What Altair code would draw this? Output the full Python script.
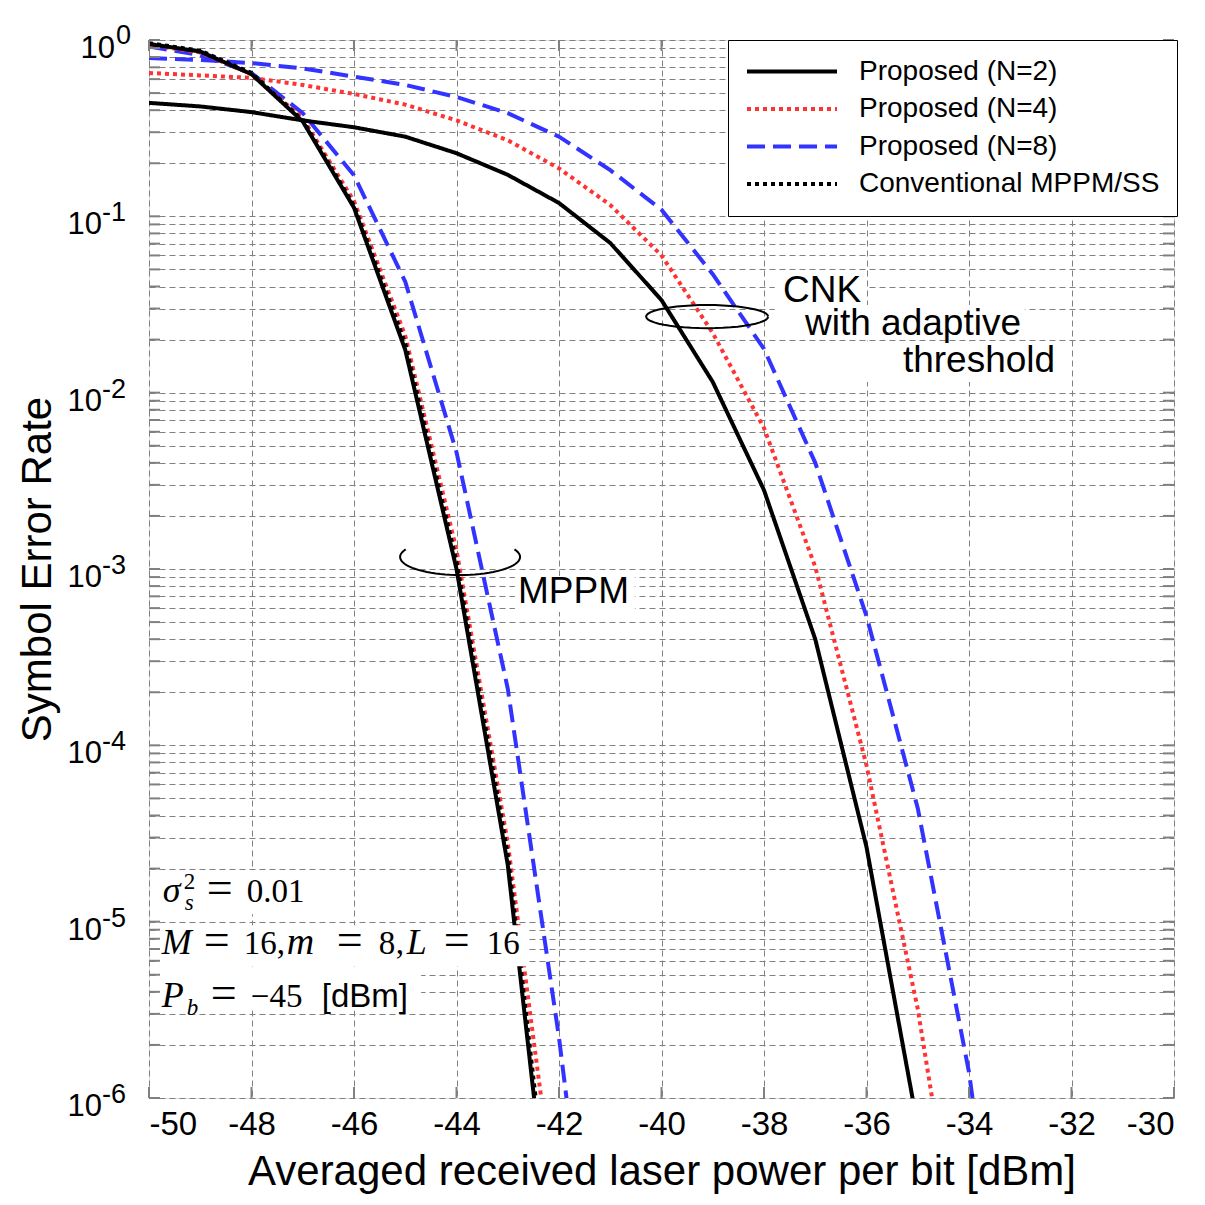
import math
import altair as alt
import pandas as pd

# ---------------- data ----------------
x_mppm = [-50, -49, -48, -47, -46, -45, -44, -43, -42]
n2_mppm = [0.95, 0.86, 0.64, 0.345, 0.112, 0.0175, 1.0e-3, 2.1e-5, 5.6e-8]
conv_mppm = [0.96, 0.87, 0.65, 0.35, 0.115, 0.019, 1.1e-3, 2.4e-5, 7e-8]
n4_mppm = [0.94, 0.85, 0.64, 0.36, 0.122, 0.021, 1.28e-3, 2.8e-5, 1.7e-7]
x_mppm8 = [-50, -49, -48, -47, -46, -45, -44, -43, -42, -41]
n8_mppm = [0.92, 0.82, 0.65, 0.385, 0.171, 0.0426, 4.6e-3, 2.1e-4, 2.2e-6, 1e-8]

x_cnk2 = list(range(-50, -34))
n2_cnk = [0.44, 0.42, 0.39, 0.35, 0.32, 0.283, 0.228, 0.172, 0.119, 0.0706,
          0.0335, 0.0115, 2.8e-3, 4.0e-4, 2.65e-5, 6.9e-7]
x_cnk4 = list(range(-50, -33))
n4_cnk = [0.65, 0.63, 0.61, 0.556, 0.494, 0.43, 0.35, 0.27, 0.187, 0.116,
          0.06, 0.0218, 6.3e-3, 1.03e-3, 7.7e-5, 3.2e-6, 5e-8]
x_cnk8 = list(range(-50, -32))
n8_cnk = [0.79, 0.77, 0.74, 0.69, 0.62, 0.556, 0.475, 0.385, 0.283, 0.183,
          0.109, 0.047, 0.0177, 4.0e-3, 5.4e-4, 4.4e-5, 1.4e-6, 1e-8]

names = ["Proposed (N=2)", "Proposed (N=4)", "Proposed (N=8)", "Conventional MPPM/SS"]
colors = ["#000000", "#ff3333", "#3333ff", "#000000"]
dashes = [[1, 0], [4, 4], [18, 8], [4, 4]]

x_ticks = list(range(-50, -29, 2))
exponents = [0, -1, -2, -3, -4, -5, -6]

# annotation texts (data coordinates)
ann_text = ["CNK", "with adaptive", "threshold", "MPPM"]
ann_x = [-37.63, -37.20, -35.29, -42.80]
ann_v = [0.0327, 0.0212, 0.0131, 6.4e-4]

# white boxes behind annotation texts (data coordinates)
box_x = [-37.79, -37.30, -35.99, -42.86, -49.82, -49.82, -49.82]
box_x2 = [-36.01, -32.91, -32.22, -40.52, -46.70, -42.59, -44.69]
box_v = [0.0483, 0.0314, 0.0196, 9.12e-4, 1.96e-5, 9.55e-6, 5.45e-6]
box_v2 = [0.0294, 0.0199, 0.01148, 5.70e-4, 1.10e-5, 5.59e-6, 3.15e-6]

# ellipse annotation centres
ell_x = [-39.11, -43.93]
ell_v = [0.0270, 1.17e-3]

# parameter text lines: anchor x and baselines
par_x = -49.73
par_v = [1.29e-5, 6.54e-6, 3.27e-6]

# ---------------- build tables ----------------
rows = []
def add(xs, vs, name, branch):
    for a, b in zip(xs, vs):
        rows.append({"x": a, "v": b, "name": name, "branch": branch})

add(x_cnk8, n8_cnk, names[2], "cnk8")
add(x_mppm8, n8_mppm, names[2], "mppm8")
add(x_cnk4, n4_cnk, names[1], "cnk4")
add(x_mppm, n4_mppm, names[1], "mppm4")
add(x_cnk2, n2_cnk, names[0], "cnk2")
add(x_mppm, n2_mppm, names[0], "mppm2")
add(x_mppm, conv_mppm, names[3], "conv")
df = pd.DataFrame(rows)

W, H = 1025, 1058
FONT = "Liberation Sans"
SERIF = "Liberation Serif"
GRAY = "#808080"

xscale = alt.Scale(domain=[-50, -30], nice=False, zero=False)
yscale = alt.Scale(type="log", domain=[1e-6, 1], nice=False)

grid_vals = []
for e in range(-6, 0):
    for k in range(1, 10):
        grid_vals.append(k * 10 ** e)
grid_vals.append(1.0)

xaxis = alt.Axis(values=x_ticks, grid=True, gridDash=[6, 4], gridColor=GRAY, gridWidth=1,
                 ticks=False, domain=False, labelExpr="datum.value + ''",
                 labelFont=FONT, labelFontSize=33, labelColor="black", labelPadding=10,
                 title="Averaged received laser power per bit [dBm]",
                 titleFont=FONT, titleFontSize=42, titleFontWeight="normal", titleColor="black",
                 titleX=W / 2, titleY=86, titleBaseline="alphabetic", titleAlign="center")
yaxis = alt.Axis(values=grid_vals, grid=True, gridDash=[6, 4], gridColor=GRAY, gridWidth=1,
                 ticks=False, domain=False, labels=False,
                 title="Symbol Error Rate", titleFont=FONT, titleFontSize=42,
                 titleFontWeight="normal", titleColor="black", titleAngle=-90,
                 titleX=-99, titleY=H / 2, titleBaseline="alphabetic", titleAlign="center")

leg = alt.Legend(title=None, orient="none", legendX=579, legendY=0,
                 symbolType="stroke", symbolSize=8100, symbolStrokeWidth=4,
                 labelFont=FONT, labelFontSize=28, labelColor="black", labelOffset=20,
                 labelLimit=500, padding=17, rowPadding=8.5, clipHeight=29,
                 fillColor="white", strokeColor="black")

lines = alt.Chart(df).mark_line(strokeWidth=4, clip=True, strokeCap="butt").encode(
    x=alt.X("x:Q", scale=xscale, axis=xaxis),
    y=alt.Y("v:Q", scale=yscale, axis=yaxis),
    color=alt.Color("name:N", scale=alt.Scale(domain=names, range=colors), legend=leg),
    strokeDash=alt.StrokeDash("name:N", scale=alt.Scale(domain=names, range=dashes), legend=leg),
    detail="branch:N",
    order=alt.Order("x:Q"),
)

# inward ticks on the frame
ydf = pd.DataFrame({"v": grid_vals})
xdf = pd.DataFrame({"x": x_ticks})
tick_style = dict(color=GRAY, strokeWidth=2)
tl = alt.Chart(ydf).mark_rule(**tick_style).encode(y=alt.Y("v:Q", scale=yscale), x=alt.value(0), x2=alt.value(11))
tr = alt.Chart(ydf).mark_rule(**tick_style).encode(y=alt.Y("v:Q", scale=yscale), x=alt.value(W - 11), x2=alt.value(W))
tb = alt.Chart(xdf).mark_rule(**tick_style).encode(x=alt.X("x:Q", scale=xscale), y=alt.value(H - 11), y2=alt.value(H))
tt = alt.Chart(xdf).mark_rule(**tick_style).encode(x=alt.X("x:Q", scale=xscale), y=alt.value(0), y2=alt.value(11))

# y tick labels "10" with exponent
labdf = pd.DataFrame({"v": [10.0 ** e for e in exponents], "e": [str(e) for e in exponents]})
lab0 = labdf[labdf["e"] == "0"]
labn = labdf[labdf["e"] != "0"]
ten0 = alt.Chart(lab0).mark_text(align="right", baseline="alphabetic", dy=18, font=FONT, fontSize=31, color="black").encode(
    y=alt.Y("v:Q", scale=yscale), x=alt.value(-34), text=alt.value("10"))
exp0 = alt.Chart(lab0).mark_text(align="left", baseline="alphabetic", dy=4, font=FONT, fontSize=27, color="black").encode(
    y=alt.Y("v:Q", scale=yscale), x=alt.value(-33), text="e:N")
tenn = alt.Chart(labn).mark_text(align="right", baseline="alphabetic", dy=18, font=FONT, fontSize=31, color="black").encode(
    y=alt.Y("v:Q", scale=yscale), x=alt.value(-47), text=alt.value("10"))
expn = alt.Chart(labn).mark_text(align="left", baseline="alphabetic", dy=5, font=FONT, fontSize=27, color="black").encode(
    y=alt.Y("v:Q", scale=yscale), x=alt.value(-47), text="e:N")

# white boxes
boxdf = pd.DataFrame({"x": box_x, "x2": box_x2, "v": box_v, "v2": box_v2})
boxes = alt.Chart(boxdf).mark_rect(color="white").encode(
    x=alt.X("x:Q", scale=xscale), x2="x2:Q", y=alt.Y("v:Q", scale=yscale), y2="v2:Q")

# annotations
anndf = pd.DataFrame({"t": ann_text, "x": ann_x, "v": ann_v})
ann = alt.Chart(anndf).mark_text(align="left", baseline="alphabetic", font=FONT, fontSize=37, color="black").encode(
    x=alt.X("x:Q", scale=xscale), y=alt.Y("v:Q", scale=yscale), text="t:N")

# ellipses
def ell_path(t0, t1, ry, n=48):
    pts = []
    for i in range(n + 1):
        t = math.radians(t0 + (t1 - t0) * i / n)
        pts.append(f"{math.cos(t):.4f} {ry * math.sin(t):.4f}")
    return "M " + " L ".join(pts)

elldf1 = pd.DataFrame({"x": [ell_x[0]], "v": [ell_v[0]]})
elldf2 = pd.DataFrame({"x": [ell_x[1]], "v": [ell_v[1]]})
ell1 = alt.Chart(elldf1).mark_point(shape=ell_path(0, 360, 0.19), size=122 ** 2, filled=False,
                                    stroke="black", strokeWidth=2, opacity=1).encode(
    x=alt.X("x:Q", scale=xscale), y=alt.Y("v:Q", scale=yscale))
ell2 = alt.Chart(elldf2).mark_point(shape=ell_path(-25, 205, 0.30), size=120 ** 2, filled=False,
                                    stroke="black", strokeWidth=2, opacity=1).encode(
    x=alt.X("x:Q", scale=xscale), y=alt.Y("v:Q", scale=yscale))

# parameter lines, written as segments
segments = [
    # (line, text, dx, dy, size, font, style)
    (0, "σ", 0, 0, 36, SERIF, "italic"),
    (0, "2", 21, -13, 23, SERIF, "normal"),
    (0, "s", 22, 8, 23, SERIF, "italic"),
    (0, "=", 44, 1, 46, SERIF, "normal"),
    (0, "0.01", 84, 0, 33, SERIF, "normal"),
    (1, "M", -1, 0, 36, SERIF, "italic"),
    (1, "=", 41, 1, 46, SERIF, "normal"),
    (1, "16", 81, 0, 33, SERIF, "normal"),
    (1, ",", 114, 0, 33, SERIF, "normal"),
    (1, "m", 124, 0, 38, SERIF, "italic"),
    (1, "=", 174, 1, 46, SERIF, "normal"),
    (1, "8", 216, 0, 33, SERIF, "normal"),
    (1, ",", 233, 0, 33, SERIF, "normal"),
    (1, "L", 244, 0, 36, SERIF, "italic"),
    (1, "=", 281, 1, 46, SERIF, "normal"),
    (1, "16", 324, 0, 33, SERIF, "normal"),
    (2, "P", -1, 0, 36, SERIF, "italic"),
    (2, "b", 24, 8, 23, SERIF, "italic"),
    (2, "=", 48, 1, 46, SERIF, "normal"),
    (2, "−45", 88, 0, 33, SERIF, "normal"),
    (2, "[dBm]", 159, 0, 33, FONT, "normal"),
]
seg_layers = []
for ln, txt, dx, dy, sz, fnt, sty in segments:
    sdf = pd.DataFrame({"x": [par_x], "v": [par_v[ln]], "t": [txt]})
    seg_layers.append(
        alt.Chart(sdf).mark_text(align="left", baseline="alphabetic", dx=dx, dy=dy, fontSize=sz,
                                 font=fnt, fontStyle=sty, color="black").encode(
            x=alt.X("x:Q", scale=xscale), y=alt.Y("v:Q", scale=yscale), text="t:N")
    )

chart = alt.layer(
    lines, boxes, tl, tr, tb, tt, ten0, exp0, tenn, expn, ann, ell1, ell2, *seg_layers
).properties(
    width=W, height=H,
    padding={"left": 141, "top": 32, "right": 20, "bottom": 105},
    autosize=alt.AutoSizeParams(type="none"),
).configure_view(
    stroke="#7f7f7f", strokeWidth=3
).configure_legend(
    strokeWidth=3
).configure(background="white")

chart.save("out.html", embed_options={"renderer": "svg", "actions": False})
